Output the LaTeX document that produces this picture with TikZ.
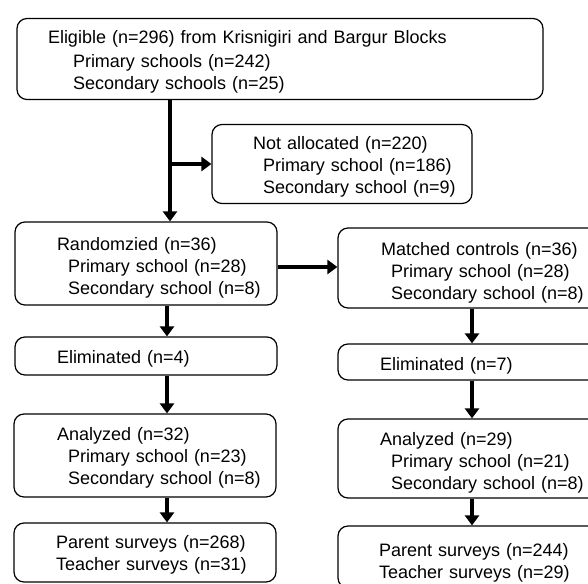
\documentclass[tikz,border=0pt]{standalone}
\usepackage{fontspec}
\setmainfont{Liberation Sans}
\usetikzlibrary{arrows.meta,calc}
\newcommand{\topsh}[1]{\rule{0pt}{\dimexpr13pt+#1\relax}}
\begin{document}
\begin{tikzpicture}[x=1pt,y=-1pt,
  box/.style={draw, line width=1.2pt, rounded corners=10pt, inner sep=0pt,
    align=left, text width=262pt, font=\fontsize{18}{22}\selectfont},
  arr/.style={line width=3.2pt, -{Triangle[length=10pt,width=14pt]}}]
\clip (0,0) rectangle (588,583);
% boxes
\node[box, text width=526pt, minimum height=81pt] (elig) at (280,59)
  {\topsh{6pt}\hspace*{31pt}Eligible (n=296) from Krisnigiri and Bargur Blocks\\[2pt]
   \hspace*{56pt}Primary schools (n=242)\\
   \hspace*{56pt}Secondary schools (n=25)};
\node[box, text width=260pt, minimum height=79pt] (notalloc) at (342,164)
  {\topsh{5pt}\hspace*{41pt}Not allocated (n=220)\\
   \hspace*{51pt}Primary school (n=186)\\
   \hspace*{51pt}Secondary school (n=9)};
\node[box, minimum height=83pt] (rand) at (146,263.5)
  {\topsh{9pt}\hspace*{42pt}Randomzied (n=36)\\
   \hspace*{53pt}Primary school (n=28)\\
   \hspace*{53pt}Secondary school (n=8)};
\node[box, minimum height=80pt] (match) at (469,268)
  {\topsh{10pt}\hspace*{43pt}Matched controls (n=36)\\
   \hspace*{53pt}Primary school (n=28)\\
   \hspace*{53pt}Secondary school (n=8)};
\node[box, minimum height=38pt] (elimL) at (146,356)
  {\topsh{6pt}\hspace*{42pt}Eliminated (n=4)};
\node[box, minimum height=36pt] (elimR) at (469,362)
  {\topsh{8pt}\hspace*{42pt}Eliminated (n=7)};
\node[box, minimum height=83pt] (anaL) at (145,455.5)
  {\topsh{4pt}\hspace*{43pt}Analyzed (n=32)\\
   \hspace*{54pt}Primary school (n=23)\\
   \hspace*{54pt}Secondary school (n=8)};
\node[box, minimum height=79pt] (anaR) at (469,458.5)
  {\topsh{9pt}\hspace*{42pt}Analyzed (n=29)\\
   \hspace*{53pt}Primary school (n=21)\\
   \hspace*{53pt}Secondary school (n=8)};
\node[box, minimum height=59pt] (parL) at (145,552.5)
  {\topsh{4pt}\hspace*{42pt}Parent surveys (n=268)\\
   \hspace*{42pt}Teacher surveys (n=31)};
\node[box, minimum height=62pt] (parR) at (469,557)
  {\topsh{12pt}\hspace*{41pt}Parent surveys (n=244)\\
   \hspace*{41pt}Teacher surveys (n=29)};
% column coordinates
\coordinate (cl) at (167,0);
\coordinate (cr) at (472,0);
\coordinate (b1) at (170,0);
\coordinate (br) at (b1 |- notalloc.west);
% connectors
\draw[arr] (b1 |- elig.south) -- (b1 |- rand.north);
\draw[arr] (br) -- (notalloc.west);
\draw[arr] ([yshift=-3.5pt]rand.east) -- ([yshift=-3.5pt]rand.east -| match.west);
\draw[arr] (rand.south -| cl) -- (elimL.north -| cl);
\draw[arr] (elimL.south -| cl) -- (anaL.north -| cl);
\draw[arr] (anaL.south -| cl) -- (parL.north -| cl);
\draw[arr] (match.south -| cr) -- (elimR.north -| cr);
\draw[arr] (elimR.south -| cr) -- (anaR.north -| cr);
\draw[arr] (anaR.south -| cr) -- (parR.north -| cr);
\end{tikzpicture}
\end{document}
